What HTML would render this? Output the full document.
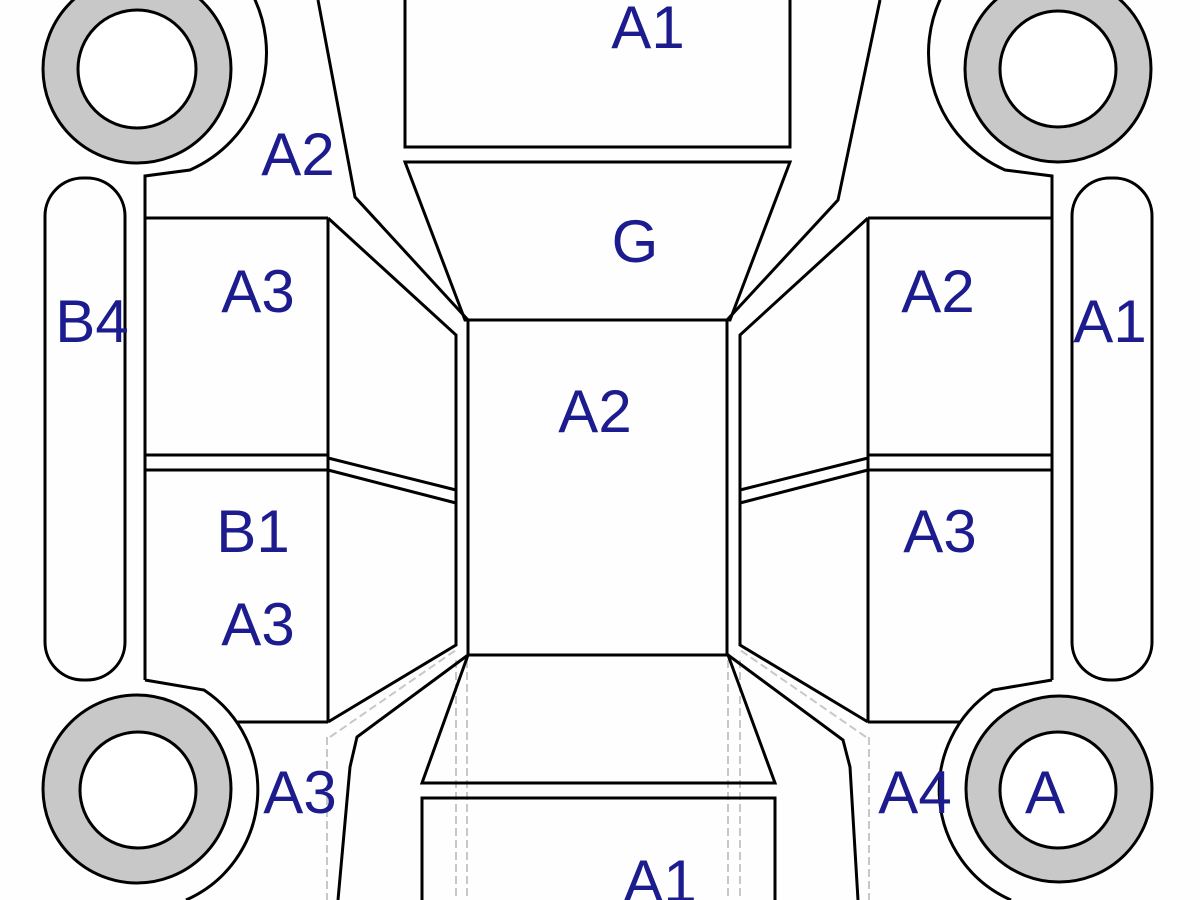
<!DOCTYPE html>
<html><head><meta charset="utf-8"><style>
html,body{margin:0;padding:0;background:#fff;}
svg{display:block;}
text{font-family:"Liberation Sans",sans-serif;font-size:60px;fill:#1c1c8e;text-anchor:middle;}
</style></head><body>
<svg width="1200" height="900" viewBox="0 0 1200 900" xmlns="http://www.w3.org/2000/svg">
<rect width="1200" height="900" fill="#fefefe"/>
<g fill="none" stroke="#c8c8c8" stroke-width="2" stroke-dasharray="8,4">
<line x1="456" y1="660" x2="456" y2="900"/><line x1="467" y1="660" x2="467" y2="900"/>
<line x1="728" y1="660" x2="728" y2="900"/><line x1="740" y1="660" x2="740" y2="900"/>
<line x1="327" y1="737" x2="327" y2="900"/><line x1="869" y1="737" x2="869" y2="900"/>
<line x1="330" y1="737" x2="456" y2="650"/><line x1="866" y1="737" x2="740" y2="650"/>
</g>
<g fill="#c8c8c8" stroke="#000" stroke-width="3">
<circle cx="137" cy="69" r="94"/><circle cx="1058" cy="69" r="93"/>
<circle cx="137" cy="789" r="94"/><circle cx="1059" cy="789" r="93"/>
</g>
<g fill="#fff" stroke="#000" stroke-width="3">
<circle cx="137" cy="69" r="59"/><circle cx="1058" cy="69" r="58"/>
<circle cx="138" cy="790" r="58"/><circle cx="1058" cy="790" r="58"/>
</g>
<g fill="none" stroke="#000" stroke-width="3">
<rect x="45" y="178" width="80" height="502" rx="38"/>
<rect x="1072" y="178" width="80" height="502" rx="38"/>
<path d="M145 180 L145 176 L190 170 A128 128 0 0 0 250 -10"/>
<path d="M1052 180 L1052 176 L1005 170 A128 128 0 0 1 945 -10"/>
<path d="M145 680 L204 690 A120 120 0 0 1 186 900"/>
<path d="M1052 680 L993 690 A120 120 0 0 0 1011 900"/>
<line x1="145" y1="176" x2="145" y2="680"/>
<line x1="1052" y1="176" x2="1052" y2="680"/>
<line x1="145" y1="218" x2="328" y2="218"/>
<line x1="328" y1="218" x2="328" y2="722"/>
<line x1="145" y1="455" x2="328" y2="455"/>
<line x1="145" y1="470" x2="328" y2="470"/>
<line x1="237" y1="722" x2="328" y2="722"/>
<line x1="868" y1="218" x2="1052" y2="218"/>
<line x1="868" y1="218" x2="868" y2="722"/>
<line x1="868" y1="455" x2="1052" y2="455"/>
<line x1="868" y1="470" x2="1052" y2="470"/>
<line x1="868" y1="722" x2="960" y2="722"/>
<polyline points="328,218 456,335 456,645 328,722"/>
<line x1="328" y1="458" x2="456" y2="490"/>
<line x1="328" y1="470" x2="456" y2="503"/>
<polyline points="868,218 740,335 740,645 868,722"/>
<line x1="868" y1="458" x2="740" y2="490"/>
<line x1="868" y1="470" x2="740" y2="503"/>
<polyline points="318,0 355,197 468,320"/>
<polyline points="880,0 838,200 727,320"/>
<polyline points="468,655 357,737 350,767 338,900"/>
<polyline points="728,655 843,740 850,767 858,900"/>
<rect x="468" y="320" width="259" height="335"/>
<path d="M405 -5 L405 147 L790 147 L790 -5"/>
<polygon points="405,162 790,162 730,320 465,320"/>
<polygon points="468,655 728,655 775,783 422,783"/>
<path d="M422 905 L422 798 L775 798 L775 905"/>
</g>
<text x="648" y="48">A1</text>
<text x="298" y="175">A2</text>
<text x="635" y="262">G</text>
<text x="258" y="312">A3</text>
<text x="92" y="342">B4</text>
<text x="595" y="432">A2</text>
<text x="253" y="552">B1</text>
<text x="258" y="645">A3</text>
<text x="300" y="813">A3</text>
<text x="938" y="312">A2</text>
<text x="1110" y="342">A1</text>
<text x="940" y="552">A3</text>
<text x="915" y="813">A4</text>
<text x="1045" y="813">A</text>
<text x="660" y="902">A1</text>
</svg>
</body></html>
